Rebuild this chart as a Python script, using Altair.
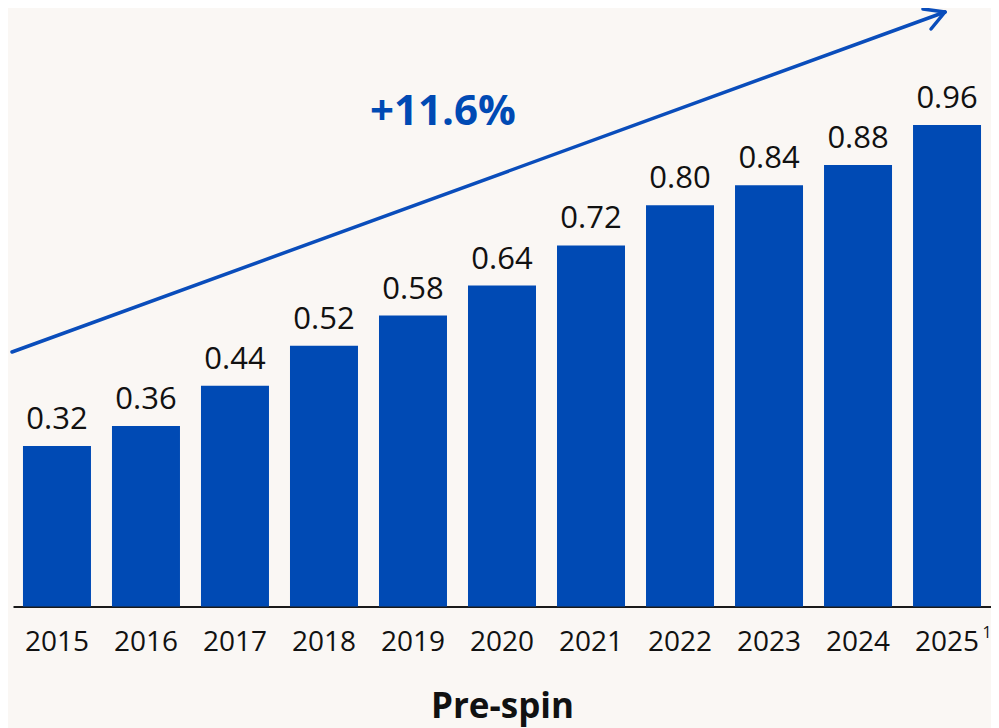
import altair as alt
import pandas as pd

years = ["2015", "2016", "2017", "2018", "2019", "2020", "2021", "2022", "2023", "2024", "2025"]
values = [0.32, 0.36, 0.44, 0.52, 0.58, 0.64, 0.72, 0.80, 0.84, 0.88, 0.96]
value_labels = ["0.32", "0.36", "0.44", "0.52", "0.58", "0.64", "0.72", "0.80", "0.84", "0.88", "0.96"]
growth_label = "+11.6%"
axis_title = "Pre-spin"
footnote_year = ["2025"]
footnote_mark = ["1"]

BLUE = "#004AB4"
ARROW = "#0A4DBB"
BG = "#FAF7F4"
FONT = "Open Sans"

df = pd.DataFrame({"year": years, "value": values, "label": value_labels})

W, H = 978, 592
xscale = alt.Scale(domain=years, paddingInner=0.236, paddingOuter=0.112)
yscale = alt.Scale(domain=[0, 1.18], nice=False, zero=True)

base = alt.Chart(df)

bars = base.mark_bar(color=BLUE).encode(
    x=alt.X("year:N", scale=xscale, sort=years,
            axis=alt.Axis(title=axis_title, labelAngle=0, ticks=False, tickSize=0,
                          domainColor="#1a1a1a", domainWidth=2,
                          labelFont=FONT, labelFontSize=28, labelColor="#111111",
                          labelBaseline="alphabetic", labelPadding=44,
                          titleFont=FONT, titleFontSize=35, titleFontWeight="bold",
                          titleColor="#111111", titlePadding=33)),
    y=alt.Y("value:Q", scale=yscale, axis=None),
)

labels = base.mark_text(font=FONT, fontSize=31, color="#111111",
                        baseline="alphabetic", dy=-17).encode(
    x=alt.X("year:N", scale=xscale, sort=years),
    y=alt.Y("value:Q", scale=yscale),
    text="label:N",
)

foot = alt.Chart(pd.DataFrame({"year": footnote_year, "t": footnote_mark})).mark_text(
    font=FONT, fontSize=16, color="#111111", baseline="alphabetic", dx=40
).encode(
    x=alt.X("year:N", scale=xscale, sort=years),
    y=alt.value(623),
    text="t:N",
)

arrow_df = pd.DataFrame({
    "x0": [-1, 932, 932],
    "y0": [337.4, -2.6, -2.6],
    "x1": [932, 910, 918],
    "y1": [-2.6, -5.6, 14.4],
})
arrow = alt.Chart(arrow_df).mark_rule(color=ARROW, strokeWidth=3.5, strokeCap="round").encode(
    x=alt.X("x0:Q", scale=None),
    y=alt.Y("y0:Q", scale=None),
    x2="x1:Q",
    y2="y1:Q",
)

growth = alt.Chart(pd.DataFrame({"t": [growth_label]})).mark_text(
    font=FONT, fontSize=42, fontWeight="bold", color=BLUE, baseline="alphabetic", align="center"
).encode(
    x=alt.value(430),
    y=alt.value(110.5),
    text="t:N",
)

chart = alt.layer(bars, labels, foot, arrow, growth).properties(
    width=W, height=H,
    background=BG,
    padding={"left": 5, "top": 6.6, "right": 0, "bottom": 121},
    autosize=alt.AutoSizeParams(type="none"),
).configure_view(stroke=None)

chart.save("out.html", embed_options={"renderer": "svg", "actions": False})
